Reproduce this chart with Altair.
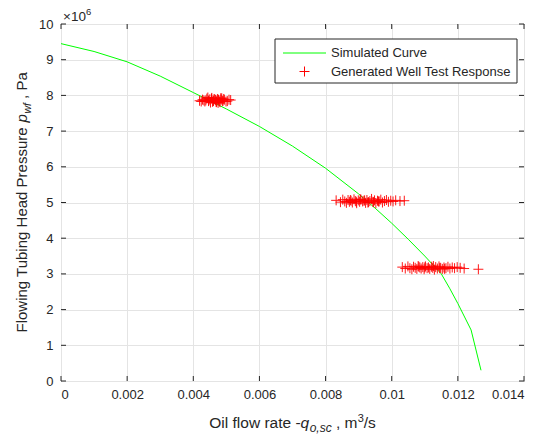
import altair as alt
import pandas as pd

# ---------------- data ----------------
curve_q = [0, 0.001, 0.002, 0.003, 0.004, 0.005, 0.006, 0.007, 0.008, 0.009,
           0.0095, 0.010, 0.0105, 0.011, 0.0115, 0.01175, 0.012, 0.0124, 0.0127]
curve_p = [9.45, 9.23, 8.94, 8.54, 8.08, 7.62, 7.13, 6.58, 5.96, 5.24,
           4.84, 4.42, 3.97, 3.50, 3.00, 2.60, 2.17, 1.43, 0.30]

c1_q = [0.00428, 0.00435, 0.00441, 0.00447, 0.00452, 0.00456, 0.00461, 0.00465, 0.00469, 0.00473,
        0.00477, 0.00481, 0.00486, 0.00490, 0.00494, 0.00499, 0.00438, 0.00444, 0.00458, 0.00463,
        0.00471, 0.00475, 0.00484, 0.00488, 0.00455, 0.00467, 0.00479, 0.00450, 0.00432, 0.00503,
        0.00508, 0.00419, 0.00513, 0.00424, 0.00492, 0.00460, 0.00470, 0.00483, 0.00446, 0.00476]
c1_p = [7.88, 7.83, 7.91, 7.86, 7.80, 7.93, 7.84, 7.89, 7.82, 7.90,
        7.87, 7.81, 7.92, 7.85, 7.88, 7.83, 7.86, 7.94, 7.82, 7.90,
        7.85, 7.79, 7.88, 7.84, 7.91, 7.87, 7.83, 7.89, 7.86, 7.84,
        7.88, 7.85, 7.87, 7.83, 7.90, 7.86, 7.81, 7.92, 7.84, 7.88]

c2_q = [0.00832, 0.00845, 0.00852, 0.00858, 0.00863, 0.00868, 0.00872, 0.00877, 0.00881, 0.00886,
        0.00890, 0.00894, 0.00899, 0.00903, 0.00907, 0.00912, 0.00916, 0.00921, 0.00925, 0.00930,
        0.00934, 0.00939, 0.00943, 0.00948, 0.00952, 0.00957, 0.00962, 0.00967, 0.00972, 0.00978,
        0.00984, 0.00990, 0.00997, 0.01004, 0.01012, 0.01025, 0.01038,
        0.00875, 0.00928, 0.00960, 0.00905, 0.00945, 0.00918, 0.00893]
c2_p = [5.06, 5.01, 5.08, 5.03, 4.99, 5.07, 5.02, 5.05, 5.00, 5.09,
        5.04, 4.98, 5.06, 5.02, 5.08, 5.03, 5.05, 4.99, 5.07, 5.01,
        5.04, 5.10, 5.02, 5.06, 4.98, 5.05, 5.03, 5.08, 5.00, 5.04,
        5.07, 5.02, 5.05, 5.03, 5.06, 5.04, 5.05,
        5.07, 5.00, 5.03, 5.09, 5.01, 5.06, 5.02]

c3_q = [0.01032, 0.01041, 0.01049, 0.01055, 0.01061, 0.01066, 0.01071, 0.01076, 0.01080, 0.01085,
        0.01089, 0.01094, 0.01098, 0.01102, 0.01107, 0.01111, 0.01115, 0.01120, 0.01124, 0.01129,
        0.01133, 0.01138, 0.01143, 0.01148, 0.01153, 0.01158, 0.01164, 0.01170, 0.01176, 0.01183,
        0.01190, 0.01198, 0.01207, 0.01219, 0.01262, 0.01100, 0.01126, 0.01145, 0.01082, 0.01160]
c3_p = [3.19, 3.15, 3.21, 3.16, 3.13, 3.20, 3.17, 3.14, 3.22, 3.18,
        3.15, 3.19, 3.13, 3.21, 3.16, 3.18, 3.14, 3.20, 3.17, 3.12,
        3.19, 3.15, 3.21, 3.17, 3.14, 3.18, 3.16, 3.20, 3.15, 3.18,
        3.16, 3.19, 3.17, 3.15, 3.13, 3.18, 3.22, 3.16, 3.20, 3.14]

x_ticks = [0, 0.002, 0.004, 0.006, 0.008, 0.010, 0.012, 0.014]
y_ticks = [0, 1, 2, 3, 4, 5, 6, 7, 8, 9, 10]

legend_labels = ["Simulated Curve", "Generated Well Test Response"]

# ---------------- styling ----------------
W, H = 463, 357
FONT = "Liberation Sans"
DARK = "#262626"
GRID = "#e4e4e4"
GREEN = "#00ff00"
RED = "#ff0000"
PLUS = "M-1,0L1,0M0,-1L0,1"

curve_df = pd.DataFrame({"q": curve_q, "p": curve_p})
pts_df = pd.DataFrame({"q": c1_q + c2_q + c3_q, "p": c1_p + c2_p + c3_p})
xt_df = pd.DataFrame({"v": x_ticks})
yt_df = pd.DataFrame({"v": y_ticks})
one = pd.DataFrame({"a": [0]})

xscale = alt.Scale(domain=[0, 0.014], nice=False, zero=False)
yscale = alt.Scale(domain=[0, 10], nice=False, zero=False)

xaxis = alt.Axis(values=x_ticks, title=None, domain=False, ticks=False, grid=True,
                 gridColor=GRID, gridWidth=1, labelExpr="format(datum.value, '~g')",
                 labelFont=FONT, labelFontSize=13, labelColor=DARK, labelPadding=7)
yaxis = alt.Axis(values=y_ticks, title=None, domain=False, ticks=False, grid=True,
                 gridColor=GRID, gridWidth=1, format="d",
                 labelFont=FONT, labelFontSize=13, labelColor=DARK, labelPadding=8)

X = lambda f: alt.X(f, type="quantitative", scale=xscale, axis=xaxis)
Y = lambda f: alt.Y(f, type="quantitative", scale=yscale, axis=yaxis)

curve = alt.Chart(curve_df).mark_line(color=GREEN, strokeWidth=1).encode(x=X("q"), y=Y("p"))
pts = alt.Chart(pts_df).mark_point(shape=PLUS, size=100, color=RED, filled=False,
                                   strokeWidth=1, opacity=0.9).encode(x=X("q"), y=Y("p"))

# inward tick marks on all four sides
tb = alt.Chart(xt_df).mark_rule(color=DARK, strokeWidth=1).encode(
    x=X("v"), y=alt.value(H), y2=alt.value(H - 5))
tt = alt.Chart(xt_df).mark_rule(color=DARK, strokeWidth=1).encode(
    x=X("v"), y=alt.value(0), y2=alt.value(5))
tl = alt.Chart(yt_df).mark_rule(color=DARK, strokeWidth=1).encode(
    y=Y("v"), x=alt.value(0), x2=alt.value(5))
tr = alt.Chart(yt_df).mark_rule(color=DARK, strokeWidth=1).encode(
    y=Y("v"), x=alt.value(W), x2=alt.value(W - 5))


def txt(s, ax, ay, dx=0, dy=0, size=15, italic=False, angle=0):
    kw = dict(text=s, dx=dx, dy=dy, fontSize=size, font=FONT,
              fontStyle="italic" if italic else "normal", align="left",
              baseline="alphabetic", color=DARK)
    if angle:
        kw["angle"] = angle
    return alt.Chart(one).mark_text(**kw).encode(x=alt.value(ax), y=alt.value(ay))


# x title: Oil flow rate -q_{o,sc} , m^3/s
XA, XB = 148.3, 404
xtitle = [
    txt("Oil flow rate -", XA, XB, 0, size=15.5),
    txt("q", XA, XB, 91.3, size=15.5, italic=True),
    txt("o,sc", XA, XB, 100.4, 4, size=12, italic=True),
    txt(",", XA, XB, 126.7, size=15.5),
    txt("m", XA, XB, 135.3, size=15.5),
    txt("3", XA, XB, 148.4, -6.5, size=11),
    txt("/s", XA, XB, 154.5, size=15.5),
]
# y title: Flowing Tubing Head Pressure p_{wf} , Pa
YA, YB = -34, 308.5
ytitle = [
    txt("Flowing Tubing Head Pressure", YA, YB, 0, angle=270),
    txt("p", YA, YB, 210.1, italic=True, angle=270),
    txt("wf", YA, YB, 218.9, 4, size=10.5, italic=True, angle=270),
    txt(",", YA, YB, 233.6, angle=270),
    txt("Pa", YA, YB, 242.0, angle=270),
]
# exponent label
expo = [
    txt("\u00d710", 2, -3, 0, size=13.5),
    txt("6", 2, -3, 22.9, -6, size=9.5),
]

# legend
leg_box = alt.Chart(one).mark_rect(fill="white", stroke=DARK, strokeWidth=1).encode(
    x=alt.value(214), x2=alt.value(456), y=alt.value(15), y2=alt.value(59))
leg_line = alt.Chart(one).mark_rule(color=GREEN, strokeWidth=1).encode(
    x=alt.value(222), x2=alt.value(265), y=alt.value(29))
leg_pt = alt.Chart(one).mark_point(shape=PLUS, size=100, color=RED, filled=False,
                                   strokeWidth=1, opacity=1).encode(
    x=alt.value(243.5), y=alt.value(47.5))
leg_t1 = alt.Chart(one).mark_text(text=legend_labels[0], font=FONT, fontSize=13, align="left",
                                  baseline="middle", color=DARK).encode(
    x=alt.value(270), y=alt.value(29))
leg_t2 = alt.Chart(one).mark_text(text=legend_labels[1], font=FONT, fontSize=13, align="left",
                                  baseline="middle", color=DARK).encode(
    x=alt.value(270), y=alt.value(47.5))

chart = alt.layer(
    curve, pts, tb, tt, tl, tr, *xtitle, *ytitle, *expo,
    leg_box, leg_line, leg_pt, leg_t1, leg_t2
).properties(
    width=W, height=H,
    autosize=alt.AutoSizeParams(type="none"),
    padding={"left": 61, "top": 24, "right": 20, "bottom": 58},
    background="white",
).configure_view(stroke=DARK, strokeWidth=1)

chart.save("out.html", embed_options={"renderer": "svg", "actions": False})
